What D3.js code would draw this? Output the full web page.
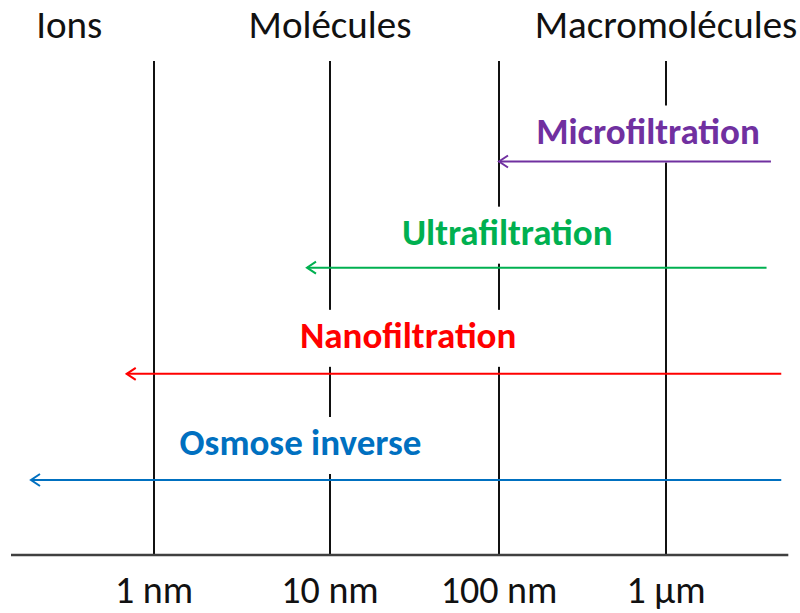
<!DOCTYPE html>
<html>
<head>
<meta charset="utf-8">
<script src="https://cdn.jsdelivr.net/npm/d3@7"></script>
<style>
  body { margin: 0; background: #fff; }
  svg text { font-family: Calibri, Carlito, Lato, sans-serif; }
</style>
</head>
<body>
<div id="chart"></div>
<script>
// sizes in nm
const decades = [1, 10, 100, 1000];
const tickLabels = ["1 nm", "10 nm", "100 nm", "1 µm"];
const axisExtent = [0.154, 5400];

const headers = ["Ions", "Molécules", "Macromolécules"];
const headerSizes = [0.33, 10, 1000];

const processes = ["Microfiltration", "Ultrafiltration", "Nanofiltration", "Osmose inverse"];
const cutMin = [100, 7.4, 0.7, 0.2];      // smallest retained size (arrow tip)
const cutMax = [4250, 4000, 4900, 4900];  // right end of arrow
const colors = ["#7030a0", "#00b050", "#ff0000", "#0070c0"];

const width = 800, height = 613;

const svg = d3.select("#chart").append("svg")
  .attr("width", width)
  .attr("height", height);

// log scale, one segment per decade
const x = d3.scaleLog().domain(decades).range([154, 330, 499, 666]);

const axisY = 555, topY = 61;

// row layout: arrow y, label centre (in nm), label baseline offset
const rowY = d3.scalePoint().domain(processes).range([161.5, 480]);
const labelAt = [780, 112, 29, 6.8];
const labelDy = [-18, -23, -26, -25];

// vertical decade lines
svg.append("g")
  .selectAll("line")
  .data(decades)
  .join("line")
  .attr("x1", d => x(d)).attr("x2", d => x(d))
  .attr("y1", topY).attr("y2", axisY)
  .attr("stroke", "#111")
  .attr("stroke-width", 2);

// horizontal axis
svg.append("line")
  .attr("x1", x(axisExtent[0])).attr("x2", x(axisExtent[1]))
  .attr("y1", axisY).attr("y2", axisY)
  .attr("stroke", "#404040")
  .attr("stroke-width", 2.5);

svg.append("g")
  .selectAll("text")
  .data(decades)
  .join("text")
  .attr("x", d => x(d))
  .attr("y", 603)
  .attr("text-anchor", "middle")
  .attr("font-size", 38)
  .attr("fill", "#111")
  .text((d, i) => tickLabels[i]);

// headers
svg.append("g")
  .selectAll("text")
  .data(headers)
  .join("text")
  .attr("x", (d, i) => x(headerSizes[i]))
  .attr("y", 38)
  .attr("text-anchor", "middle")
  .attr("font-size", 39)
  .attr("fill", "#111")
  .text(d => d);

// arrow markers (open chevron pointing along the line)
const defs = svg.append("defs");
colors.forEach((c, i) => {
  defs.append("marker")
    .attr("id", "arr" + i)
    .attr("viewBox", "-10 -8 12 16")
    .attr("refX", 0).attr("refY", 0)
    .attr("markerWidth", 12).attr("markerHeight", 16)
    .attr("markerUnits", "userSpaceOnUse")
    .attr("orient", "auto")
    .append("path")
    .attr("d", "M-9,-6L0,0L-9,6")
    .attr("fill", "none")
    .attr("stroke", c)
    .attr("stroke-width", 2);
});

const rows = svg.append("g")
  .selectAll("g")
  .data(processes)
  .join("g");

// label text with white box behind it
const labels = rows.append("text")
  .attr("x", (d, i) => x(labelAt[i]))
  .attr("y", (d, i) => rowY(d) + labelDy[i])
  .attr("text-anchor", "middle")
  .attr("font-size", 37)
  .attr("font-weight", "bold")
  .attr("fill", (d, i) => colors[i])
  .text(d => d);

labels.each(function (d) {
  const b = this.getBBox();
  d3.select(this.parentNode).insert("rect", "text")
    .attr("x", b.x - 12).attr("y", b.y - 3)
    .attr("width", b.width + 30).attr("height", b.height + 12)
    .attr("fill", "#fff");
});

rows.append("line")
  .attr("x1", (d, i) => x(cutMax[i]))
  .attr("x2", (d, i) => x(cutMin[i]))
  .attr("y1", d => rowY(d)).attr("y2", d => rowY(d))
  .attr("stroke", (d, i) => colors[i])
  .attr("stroke-width", 2)
  .attr("marker-end", (d, i) => `url(#arr${i})`);
</script>
</body>
</html>
